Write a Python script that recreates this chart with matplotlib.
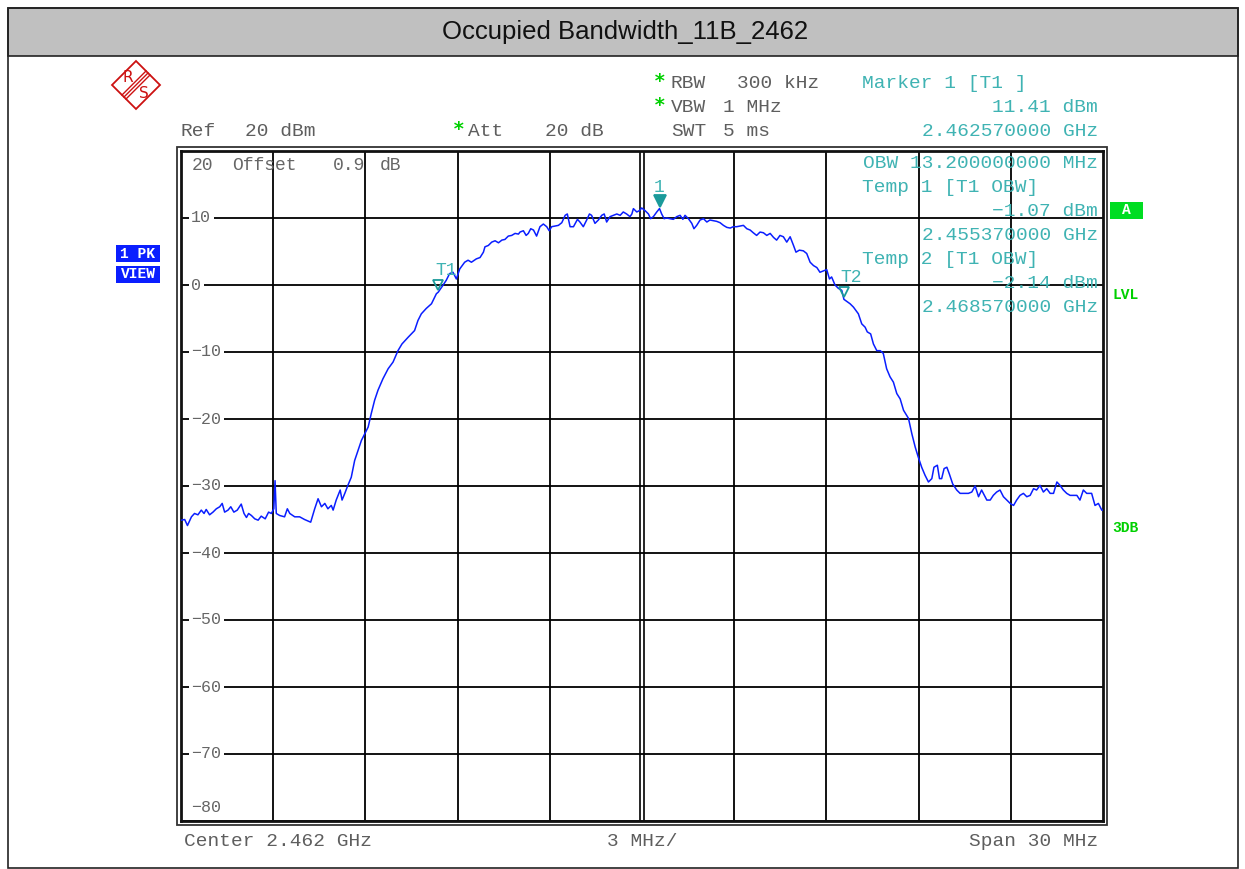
import matplotlib
matplotlib.use("Agg")
import matplotlib.pyplot as plt
from matplotlib.patches import Rectangle, Polygon
from matplotlib.lines import Line2D
import numpy as np

# sweep setup (MHz offset from 2.462 GHz centre, dBm)
center_mhz = 2462.0
freq = [
    -14.99, -14.88, -14.79, -14.66, -14.56, -14.45, -14.34, -14.25, -14.18, -14.07,
    -13.96, -13.85, -13.74, -13.66, -13.58, -13.47, -13.38, -13.28, -13.17, -13.04,
    -12.95, -12.87, -12.80, -12.71, -12.60, -12.49, -12.39, -12.26, -12.15, -12.06,
    -11.98, -11.94, -11.90, -11.79, -11.63, -11.54, -11.46, -11.30, -11.14, -10.98,
    -10.78, -10.65, -10.54, -10.43, -10.32, -10.22, -10.11, -10.05, -9.95, -9.82,
    -9.76, -9.67, -9.57, -9.46, -9.35, -9.24, -9.13, -9.02, -8.91, -8.81,
    -8.70, -8.59, -8.43, -8.26, -8.10, -7.94, -7.81, -7.61, -7.40, -7.29,
    -7.18, -7.02, -6.85, -6.69, -6.63, -6.47, -6.37, -6.26, -6.15, -6.04,
    -5.93, -5.77, -5.66, -5.55, -5.39, -5.27, -5.16, -5.11, -5.00, -4.89,
    -4.78, -4.67, -4.56, -4.46, -4.35, -4.24, -4.13, -4.02, -3.97, -3.86,
    -3.77, -3.70, -3.62, -3.53, -3.43, -3.32, -3.21, -3.10, -3.02, -2.94,
    -2.83, -2.72, -2.61, -2.50, -2.43, -2.34, -2.23, -2.10, -2.02, -1.91,
    -1.80, -1.71, -1.64, -1.53, -1.42, -1.31, -1.23, -1.15, -1.04, -0.93,
    -0.82, -0.71, -0.61, -0.50, -0.39, -0.33, -0.28, -0.17, -0.08, -0.01,
    0.10, 0.21, 0.28, 0.37, 0.48, 0.57, 0.64, 0.72, 0.80, 0.91,
    1.02, 1.13, 1.24, 1.33, 1.40, 1.51, 1.62, 1.69, 1.78, 1.89,
    2.00, 2.11, 2.21, 2.32, 2.43, 2.54, 2.65, 2.76, 2.87, 2.97,
    3.08, 3.19, 3.30, 3.41, 3.52, 3.62, 3.73, 3.84, 3.95, 4.06,
    4.17, 4.28, 4.38, 4.49, 4.60, 4.71, 4.82, 4.93, 5.01, 5.12,
    5.25, 5.36, 5.47, 5.58, 5.69, 5.79, 5.90, 6.01, 6.10, 6.17,
    6.28, 6.39, 6.50, 6.57, 6.77, 6.88, 7.04, 7.15, 7.26, 7.33,
    7.44, 7.53, 7.64, 7.75, 7.85, 7.96, 8.07, 8.18, 8.29, 8.40,
    8.51, 8.67, 8.78, 8.89, 8.99, 9.10, 9.21, 9.32, 9.43, 9.50,
    9.61, 9.68, 9.75, 9.83, 9.92, 10.00, 10.11, 10.24, 10.35, 10.51,
    10.62, 10.73, 10.84, 10.95, 11.05, 11.22, 11.33, 11.43, 11.54, 11.65,
    11.76, 11.87, 11.98, 12.09, 12.19, 12.30, 12.41, 12.52, 12.63, 12.74,
    12.84, 12.95, 13.06, 13.17, 13.28, 13.39, 13.50, 13.60, 13.71, 13.82,
    13.93, 14.04, 14.15, 14.25, 14.36, 14.47, 14.63, 14.74, 14.85, 14.96,
    15.00,
]
level = [
    -35.1, -35.0, -35.9, -34.6, -34.1, -34.3, -33.6, -34.1, -33.5, -34.3,
    -33.9, -33.4, -33.1, -32.6, -33.9, -33.6, -33.1, -33.9, -33.6, -32.7,
    -34.1, -34.7, -34.1, -34.4, -34.9, -35.1, -34.5, -34.9, -33.9, -34.1,
    -33.4, -29.2, -34.1, -34.4, -34.6, -33.4, -34.1, -34.6, -34.6, -35.0,
    -35.4, -33.4, -31.9, -33.1, -32.6, -33.4, -32.9, -33.6, -32.1, -30.6,
    -32.1, -31.1, -29.9, -28.7, -26.2, -24.7, -23.2, -22.2, -21.2, -19.2,
    -17.2, -15.7, -14.0, -12.5, -11.5, -9.8, -8.8, -7.8, -6.8, -5.3,
    -4.3, -3.5, -2.8, -1.3, -1.07, 0.0, 0.7, 1.7, 1.9, 0.9,
    2.4, 3.4, 3.7, 3.4, 3.9, 4.1, 4.9, 5.7, 5.9, 6.4,
    6.6, 6.3, 6.7, 6.8, 7.3, 7.4, 7.7, 7.6, 7.9, 8.1,
    7.4, 7.7, 8.4, 8.2, 7.3, 8.7, 9.1, 8.7, 8.1, 8.7,
    8.8, 8.9, 9.3, 10.4, 10.6, 8.7, 8.7, 9.8, 9.4, 8.7,
    9.7, 10.6, 10.4, 9.2, 9.7, 10.4, 10.6, 9.4, 10.2, 10.4,
    10.6, 10.4, 10.9, 10.6, 10.2, 10.6, 11.4, 10.9, 11.1, 11.5,
    11.1, 10.6, 9.9, 10.2, 10.9, 11.41, 10.6, 9.9, 10.0, 9.9,
    9.8, 10.2, 10.4, 9.8, 10.4, 9.9, 9.2, 8.4, 8.9, 9.7,
    9.9, 9.4, 9.7, 9.6, 9.5, 9.3, 8.9, 8.6, 8.5, 8.7,
    8.7, 8.8, 8.9, 8.4, 8.2, 7.8, 7.4, 7.9, 7.8, 7.4,
    7.7, 7.1, 6.7, 7.4, 7.2, 6.4, 7.2, 5.9, 4.9, 5.2,
    5.1, 4.7, 3.4, 2.9, 2.6, 1.9, 2.1, 2.3, 0.9, 1.2,
    0.0, -0.5, -0.8, -2.14, -2.8, -3.3, -4.3, -5.8, -6.3, -7.0,
    -7.3, -8.8, -9.8, -9.8, -10.2, -12.5, -13.7, -14.5, -16.2, -17.0,
    -18.7, -19.9, -22.2, -24.2, -25.7, -27.2, -28.4, -29.4, -28.9, -27.2,
    -26.9, -28.9, -28.9, -27.4, -27.2, -28.2, -29.7, -30.6, -31.1, -31.1,
    -31.1, -30.9, -30.0, -31.6, -30.6, -32.1, -32.1, -31.4, -30.9, -30.6,
    -31.6, -32.1, -32.6, -32.9, -32.1, -31.4, -31.1, -31.6, -31.4, -30.4,
    -30.6, -29.9, -30.9, -30.4, -31.1, -31.1, -29.4, -29.9, -30.6, -31.1,
    -31.4, -31.4, -31.4, -32.1, -30.6, -31.1, -31.1, -32.9, -32.6, -33.6,
    -33.6,
]

# marker readouts (GHz, dBm)
marker_names = ["1", "T1", "T2"]
marker_freq_ghz = [2.462570000, 2.455370000, 2.468570000]
marker_level = [11.41, -1.07, -2.14]
obw_mhz = 13.2

y_ticks = [10, 0, -10, -20, -30, -40, -50, -60, -70]

W, H = 1245, 869
fig = plt.figure(figsize=(W / 100, H / 100), dpi=100)


def fx(x):
    return x / W


def fy(y):
    return 1 - y / H


MONO = "Liberation Mono"
GRAY = "#5e5e5e"
TEAL = "#3fb3b3"
GREEN = "#00d000"
FS = 14

# outer frame and title bar
fig.patches.append(Rectangle((fx(8), fy(868)), fx(1230), 860 / H, transform=fig.transFigure,
                             facecolor="none", edgecolor="#222222", lw=1.2, zorder=2))
fig.patches.append(Rectangle((fx(8), fy(56)), fx(1230), 48 / H, transform=fig.transFigure,
                             facecolor="#c0c0c0", edgecolor="#222222", lw=1.2, zorder=1))
fig.text(fx(625), fy(32), "Occupied Bandwidth_11B_2462", ha="center", va="center",
         fontsize=18.5, family="Liberation Sans", color="#111111")

# R&S logo
cx, cy, r = 136, 85, 24
fig.patches.append(Polygon([(fx(cx), fy(cy - r)), (fx(cx + r), fy(cy)), (fx(cx), fy(cy + r)), (fx(cx - r), fy(cy))],
                           closed=True, transform=fig.transFigure, facecolor="white",
                           edgecolor="#cc1111", lw=1.3, zorder=2))
for d in (-2.0, 0, 2.0):
    fig.lines.append(Line2D([fx(cx + 12 + d), fx(cx - 12 + d)], [fy(cy - 12 + d), fy(cy + 12 + d)],
                            transform=fig.transFigure, color="#cc1111", lw=1.0, zorder=3))
fig.text(fx(128), fy(77), "R", ha="center", va="center", fontsize=11, color="#cc1111", family="DejaVu Sans", zorder=3)
fig.text(fx(144), fy(94), "S", ha="center", va="center", fontsize=11, color="#cc1111", family="DejaVu Sans", zorder=3)

# main plot area
ax = fig.add_axes([fx(181), fy(821), 922 / W, 670 / H])
ax.set_zorder(4)
ax.plot(freq, level, color="#0a1eff", lw=1.1, zorder=4)
ax.set_xlim(-15, 15)
ax.set_ylim(-80, 20)
ax.set_xticks([-12, -9, -6, -3, 3, 6, 9, 12])
ax.set_yticks(np.arange(-80, 21, 10))
ax.grid(True, color="black", lw=1.3)
# centre line is drawn double
ax.axvline(-0.07, color="black", lw=1.2)
ax.axvline(0.07, color="black", lw=1.2)
ax.tick_params(length=0, labelbottom=False, labelleft=False)
for s in ax.spines.values():
    s.set_linewidth(2.0)
    s.set_color("#111111")
# double frame
fig.patches.append(Rectangle((fx(177), fy(825)), 930 / W, 678 / H, transform=fig.transFigure,
                             facecolor="none", edgecolor="#333333", lw=1.3, zorder=5))

ylab_tr = ax.get_yaxis_transform()
for v in y_ticks:
    lab = str(v).replace("-", "\u2212")
    ax.text(0.011, v, lab, transform=ylab_tr, ha="left", va="center", fontsize=12,
            family=MONO, color="#666666", zorder=3,
            bbox=dict(boxstyle="square,pad=0.15", facecolor="white", edgecolor="none"))
ax.text(0.011, -78, "\u221280", transform=ylab_tr, ha="left", va="center", fontsize=12,
        family=MONO, color="#666666")
for x, s in [(192, "20"), (232, "Offset"), (333, "0.9"), (380, "dB")]:
    fig.text(fx(x), fy(165), s, ha="left", va="center", fontsize=13, family=MONO,
             color="#666666", zorder=6)

# markers
for name, fg, lv in zip(marker_names, marker_freq_ghz, marker_level):
    f = (fg * 1000 - center_mhz)
    filled = name == "1"
    ax.plot([f], [lv + 1.1], marker="v", ms=8 if filled else 7,
            mfc="#1a9a9a" if filled else "none", mec="#1a9a9a", mew=1.3, zorder=5)
    ax.text(f + (0.0 if filled else 0.25), lv + 3.2, name, ha="center", va="center",
            fontsize=13, family=MONO, color=TEAL, zorder=5)

m1_ghz, t1_ghz, t2_ghz = marker_freq_ghz
# marker readout that sits inside the plot
ax_txt = [
    (1098, 163, f"OBW {obw_mhz:.9f} MHz", "right"),
    (862, 188, "Temp 1 [T1 OBW]", "left"),
    (1098, 212, f"{marker_level[1]:.2f} dBm".replace("-", "\u2212"), "right"),
    (1098, 236, f"{t1_ghz:.9f} GHz", "right"),
    (862, 260, "Temp 2 [T1 OBW]", "left"),
    (1098, 284, f"{marker_level[2]:.2f} dBm".replace("-", "\u2212"), "right"),
    (1098, 308, f"{t2_ghz:.9f} GHz", "right"),
]
for x, y, s, ha in ax_txt:
    fig.text(fx(x), fy(y), s, ha=ha, va="center", fontsize=FS, family=MONO, color=TEAL, zorder=6)


# header texts
def t(x, y, s, color=GRAY, ha="left", size=FS):
    fig.text(fx(x), fy(y), s, ha=ha, va="center", fontsize=size, family=MONO, color=color)


t(181, 131, "Ref")
t(245, 131, "20 dBm")
t(468, 131, "Att")
t(545, 131, "20 dB")
t(671, 83, "RBW")
t(737, 83, "300 kHz")
t(671, 107, "VBW")
t(723, 107, "1 MHz")
t(671, 131, "SWT")
t(723, 131, "5 ms")
for sx, sy in [(459, 129), (660, 81), (660, 105)]:
    fig.text(fx(sx), fy(sy), "*", ha="center", va="center", fontsize=14, family="DejaVu Sans Mono",
             color=GREEN, fontweight="bold")

t(862, 83, "Marker 1 [T1 ]", TEAL)
t(1098, 107, f"{marker_level[0]:.2f} dBm", TEAL, "right")
t(1098, 131, f"{m1_ghz:.9f} GHz", TEAL, "right")

# footer
t(184, 842, "Center 2.462 GHz")
t(607, 842, "3 MHz/")
t(1098, 842, "Span 30 MHz", ha="right")

# side badges
for y0, s in [(245, "1 PK"), (266, "VIEW")]:
    fig.patches.append(Rectangle((fx(116), fy(y0 + 17)), 44 / W, 17 / H, transform=fig.transFigure,
                                 facecolor="#0a1eff", edgecolor="none", zorder=2))
    fig.text(fx(138), fy(y0 + 8.5), s, ha="center", va="center", fontsize=10.5, family=MONO,
             fontweight="bold", color="white", zorder=3)
fig.patches.append(Rectangle((fx(1110), fy(219)), 33 / W, 17 / H, transform=fig.transFigure,
                             facecolor="#00dd22", edgecolor="none", zorder=2))
fig.text(fx(1126.5), fy(210.5), "A", ha="center", va="center", fontsize=10.5, family=MONO,
         fontweight="bold", color="white", zorder=3)
fig.text(fx(1112), fy(295), "LVL", ha="left", va="center", fontsize=10.5, family=MONO,
         fontweight="bold", color=GREEN)
fig.text(fx(1112), fy(528), "3DB", ha="left", va="center", fontsize=10.5, family=MONO,
         fontweight="bold", color=GREEN)

fig.savefig("out.png", dpi=100)
